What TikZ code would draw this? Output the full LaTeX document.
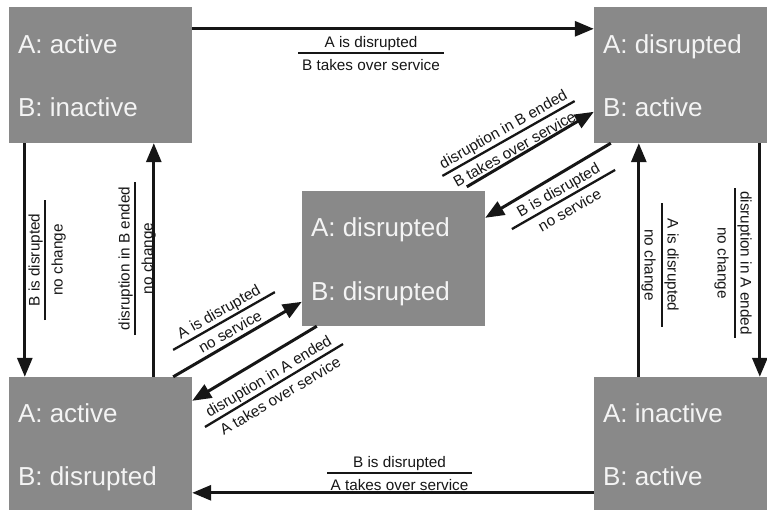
\documentclass[tikz,border=0pt]{standalone}
\usepackage{fontspec}
\setmainfont{Liberation Sans}
\usetikzlibrary{arrows.meta}

\definecolor{boxgray}{HTML}{898989}
\definecolor{boxtext}{HTML}{F4F4F4}
\definecolor{ink}{HTML}{161616}

\tikzset{
  statebox/.style={fill=boxgray, draw=none, minimum width=183pt, minimum height=136pt, inner sep=0pt},
  statetext/.style={text=boxtext, font=\fontsize{26}{30}\selectfont, inner sep=0pt, anchor=base west},
  trans/.style={draw=ink, line width=3pt, -{Triangle[length=19pt,width=15pt]}},
  fracrule/.style={draw=ink, line width=2.3pt},
  lbl/.style={text=ink, font=\fontsize{15.3}{18}\selectfont, inner sep=0pt, anchor=base},
}

% transition label: text above a rule, text below it
% #1 name, #2 centre of rule, #3 angle, #4 rule length, #5 upper text, #6 lower text
\newcommand\translabel[6]{%
  \begin{scope}[shift={#2}, rotate=#3, transform shape]
    \draw[fracrule] (-#4/2,0) -- (#4/2,0);
    \node[lbl] (#1-up) at (0,5.5) {#5};
    \node[lbl] (#1-lo) at (0,-17.5) {#6};
  \end{scope}}

\begin{document}
\begin{tikzpicture}[x=1pt,y=1pt]
  \useasboundingbox (0,0) rectangle (767,-509);

  % states
  \node[statebox] (tl) at (100.5,-75) {};
  \node[statebox] (tr) at (685.5,-75) {};
  \node[statebox, minimum height=135pt] (c) at (393.5,-258.5) {};
  \node[statebox] (bl) at (100.5,-445) {};
  \node[statebox] (br) at (685.5,-445) {};

  \node[statetext] (tl-a) at ([shift={(9,-47)}]tl.north west) {A: active};
  \node[statetext] (tl-b) at ([shift={(9,-110)}]tl.north west) {B: inactive};
  \node[statetext] (tr-a) at ([shift={(9,-47)}]tr.north west) {A: disrupted};
  \node[statetext] (tr-b) at ([shift={(9,-110)}]tr.north west) {B: active};
  \node[statetext] (c-a) at ([shift={(9,-46)}]c.north west) {A: disrupted};
  \node[statetext] (c-b) at ([shift={(9,-110)}]c.north west) {B: disrupted};
  \node[statetext] (bl-a) at ([shift={(9,-46)}]bl.north west) {A: active};
  \node[statetext] (bl-b) at ([shift={(9,-109)}]bl.north west) {B: disrupted};
  \node[statetext] (br-a) at ([shift={(9,-46)}]br.north west) {A: inactive};
  \node[statetext] (br-b) at ([shift={(9,-109)}]br.north west) {B: active};

  % transitions
  \draw[trans] ([yshift=-22pt]tl.north east) -- ([yshift=-22pt]tr.north west);
  \draw[trans] ([yshift=-116pt]br.north west) -- ([yshift=-116pt]bl.north east);
  \draw[trans] ([xshift=16pt]tl.south west) -- ([xshift=16pt]bl.north west);
  \draw[trans] ([xshift=145pt]bl.north west) -- ([xshift=145pt]tl.south west);
  \draw[trans] ([xshift=45pt]br.north west) -- ([xshift=45pt]tr.south west);
  \draw[trans] ([xshift=166pt]tr.south west) -- ([xshift=166pt]br.north west);
  \draw[trans] ([shift={(165pt,4pt)}]c.north west) -- ([yshift=-105pt]tr.north west);
  \draw[trans] ([xshift=17pt]tr.south west) -- ([yshift=-27pt]c.north east);
  \draw[trans] ([xshift=-19pt]bl.north east) -- ([yshift=-111pt]c.north west);
  \draw[trans] ([xshift=15pt]c.south west) -- ([yshift=-24pt]bl.north east);

  % transition labels
  \translabel{l1}{(371,-52.7)}{0}{146}{A is disrupted}{B takes over service}
  \translabel{l2}{(399.5,-472.7)}{0}{145}{B is disrupted}{A takes over service}
  \translabel{l3}{(45,-260)}{90}{120}{B is disrupted}{no change}
  \translabel{l4}{(135,-258.5)}{90}{153}{disruption in B ended}{no change}
  \translabel{l5}{(662,-265)}{-90}{124}{A is disrupted}{no change}
  \translabel{l6}{(735,-263)}{-90}{150}{disruption in A ended}{no change}
  \translabel{l7}{(508.5,-138.5)}{29.5}{152}{disruption in B ended}{B takes over service}
  \translabel{l8}{(563.5,-199.5)}{29.8}{119}{B is disrupted}{no service}
  \translabel{l9}{(224,-321)}{29.6}{117}{A is disrupted}{no service}
  \translabel{l10}{(274,-385.5)}{31}{161}{disruption in A ended}{A takes over service}
\end{tikzpicture}
\end{document}
